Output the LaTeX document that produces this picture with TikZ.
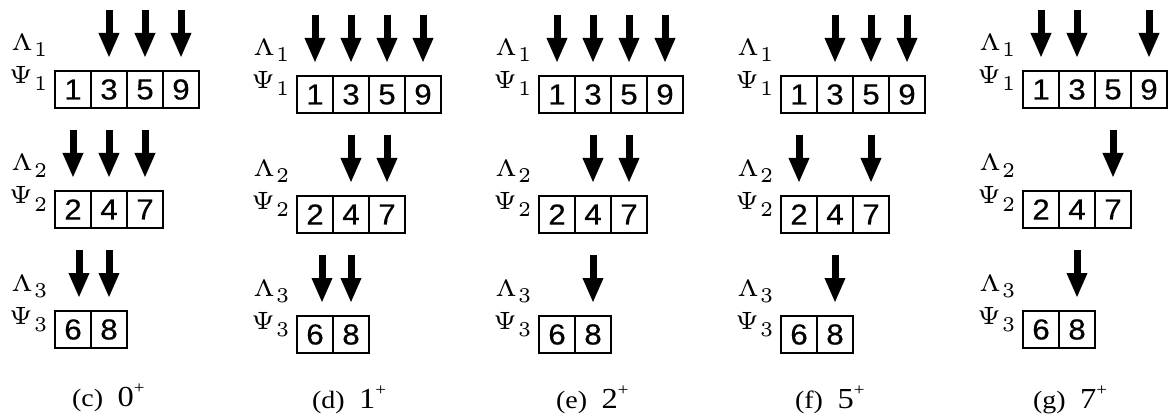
\documentclass[tikz,border=0pt]{standalone}
\usepackage{fontspec}
\newfontfamily\sansd[FakeBold=0.35]{Liberation Sans}
\newfontfamily\serifc{Liberation Serif}
\usetikzlibrary{arrows.meta}
\newcommand\subdig[2]{\raisebox{-#2}{\resizebox{13pt}{14pt}{\fontsize{5}{6}\selectfont #1}}}
\newcommand\lamlabel[1]{\resizebox{22pt}{16pt}{$\scriptscriptstyle\Lambda$}\hspace{1pt}\subdig{#1}{6pt}}
\newcommand\psilabel[1]{\resizebox{24pt}{17pt}{$\scriptscriptstyle\Psi$}\hspace{1pt}\subdig{#1}{7pt}}
\newcommand\boxrow[5]{%
  \foreach \d [count=\i] in {#4}{\node[cellbox] (#1-\i) at ({#2+36*\i-18},{#3+18.5}) {\scalebox{1.08}[1]{\d}};}
  \node[lab] (#1-lam) at ({#2-44},{#3-20}) {\lamlabel{#5}};
  \node[lab] (#1-psi) at ({#2-46},{#3+13}) {\psilabel{#5}};
}
\newcommand\panel[3]{% name, x0, y0
  \boxrow{#1a}{#2}{#3}{1,3,5,9}{1}
  \boxrow{#1b}{#2}{#3+120}{2,4,7}{2}
  \boxrow{#1c}{#2}{#3+240}{6,8}{3}
}
\newcommand\captext[2]{\scalebox{1.12}[1]{\serifc\fontsize{25}{28}\selectfont (#1)\hspace{13pt}{\fontsize{29}{30}\selectfont #2}\raisebox{13pt}{\fontsize{17}{18}\selectfont +}}}
\newcommand\darr[2][0pt]{\draw[arr] ([xshift=#1,yshift=61pt]#2.north) -- ([xshift=#1,yshift=13pt]#2.north);}
\begin{document}
\begin{tikzpicture}[x=1pt,y=-1pt,
  cellbox/.style={draw, line width=1.1pt, minimum width=36pt, minimum height=37pt, inner sep=0pt, outer sep=0pt, font=\sansd\fontsize{29}{30}\selectfont},
  lab/.style={anchor=base west, inner sep=0pt, outer sep=0pt},
  arr/.style={line width=7pt, -{Triangle[width=19pt,length=25pt]}}]
\useasboundingbox (0,0) rectangle (1169,414);
% panels
\panel{c}{55}{71}
\panel{d}{297}{76}
\panel{e}{539}{76}
\panel{f}{781}{76}
\panel{g}{1023}{71}
% captions
\node[lab] (capc) at (72,406) {\captext{c}{0}};
\node[lab] (capd) at (312,408) {\captext{d}{1}};
\node[lab] (cape) at (556,408) {\captext{e}{2}};
\node[lab] (capf) at (795,408) {\captext{f}{5}};
\node[lab] (capg) at (1033,408) {\captext{g}{7}};
% arrows (c)
\darr{ca-2}\darr{ca-3}\darr{ca-4}
\darr{cb-1}\darr{cb-2}\darr{cb-3}
\darr[6pt]{cc-1}\darr{cc-2}
% arrows (d)
\darr{da-1}\darr{da-2}\darr{da-3}\darr{da-4}
\darr{db-2}\darr{db-3}
\darr[7pt]{dc-1}\darr{dc-2}
% arrows (e)
\darr{ea-1}\darr{ea-2}\darr{ea-3}\darr{ea-4}
\darr{eb-2}\darr{eb-3}
\darr{ec-2}
% arrows (f)
\darr{fa-2}\darr{fa-3}\darr{fa-4}
\darr{fb-1}\darr{fb-3}
\darr{fc-2}
% arrows (g)
\darr{ga-1}\darr{ga-2}\darr{ga-4}
\darr{gb-3}
\darr{gc-2}
\end{tikzpicture}
\end{document}
